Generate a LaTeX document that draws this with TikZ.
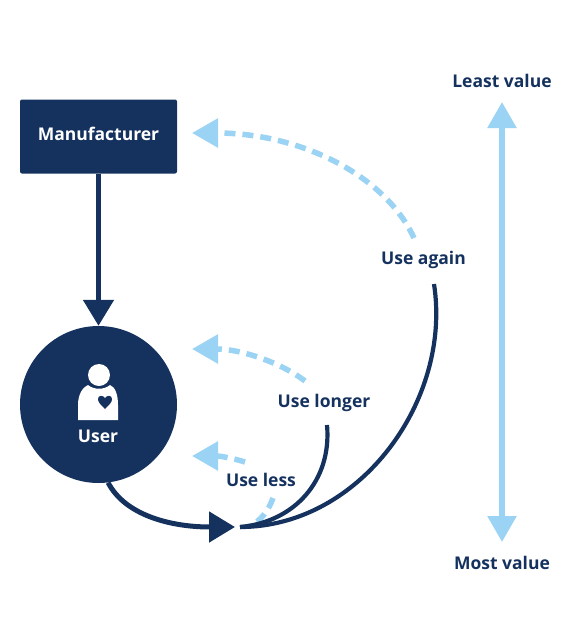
\documentclass[tikz,border=0pt]{standalone}
\usepackage{fontspec}
\setmainfont{Open Sans}
\usetikzlibrary{arrows.meta}
\definecolor{navy}{HTML}{15325F}
\definecolor{sky}{HTML}{9AD3F3}
\tikzset{
    label text/.style={text=navy, font=\bfseries\fontsize{17.5}{21}\selectfont, inner sep=0pt},
    inner text/.style={text=white, font=\bfseries\fontsize{17.5}{21}\selectfont, inner sep=0pt},
    dark arrow/.style={draw=navy, line width=5pt, -{Triangle[length=26pt, width=30pt]}},
    dark line/.style={draw=navy, line width=4.2pt},
    light arrow/.style={draw=sky, line width=5.5pt, dash pattern=on 11pt off 7pt, -{Triangle[length=26pt, width=28pt]}},
    light line/.style={draw=sky, line width=5.5pt, dash pattern=on 11pt off 7pt},
    value arrow/.style={draw=sky, line width=5.5pt, {Triangle[length=26pt, width=28pt]}-{Triangle[length=26pt, width=28pt]}}
}
\begin{document}
\begin{tikzpicture}[x=1pt, y=-1pt]
        \useasboundingbox (0, 0) rectangle (569, 627);

        \node (manufacturer) at (98.5, 136.5) [fill=navy, rounded corners=2pt, minimum width=157pt, minimum height=74pt, inner sep=0pt] {};
        \node (manufacturer-text) at (98.5, 134) [inner text] {Manufacturer};
        \node (user) at (98.5, 404.5) [circle, fill=navy, minimum size=157pt, inner sep=0pt] {};
        \node (user-text) at (98, 436) [inner text] {User};

        \fill[white] (99, 375) circle (11pt);
        \fill[white] (78, 420) -- (78, 405) .. controls (78, 394) and (83, 387) .. (88, 385) .. controls (94, 390) and (104, 390) .. (110, 385) .. controls (115, 387) and (118, 394) .. (118, 405) -- (118, 420) -- cycle;
        \fill[navy] (105, 409) .. controls (100, 404) and (98, 402) .. (98, 399) .. controls (98, 395) and (103, 395) .. (105, 398) .. controls (107, 395) and (112, 395) .. (112, 399) .. controls (112, 402) and (110, 404) .. (105, 409) -- cycle;

        \node (again) at (423.5, 259.5) [label text] {Use again};
        \node (longer) at (324, 403) [label text] {Use longer};
        \node (less) at (261, 479.5) [label text] {Use less};
        \node (least) at (502, 80.5) [label text] {Least value};
        \node (most) at (502, 562.5) [label text] {Most value};

        \coordinate (hub) at (240, 527);
        \coordinate (hub-tip) at (235, 527);
        \coordinate (again-start) at (434, 284);
        \coordinate (longer-start) at (327, 425);
        \coordinate (again-dash) at (414, 238);
        \coordinate (again-tip) at (192, 133);
        \coordinate (longer-dash) at (305, 381);
        \coordinate (longer-tip) at (192, 349);
        \coordinate (less-low) at (273, 498);
        \coordinate (less-low-end) at (250, 526);
        \coordinate (less-dash) at (245, 462);
        \coordinate (less-tip) at (192, 456);
        \coordinate (top-tip) at (502, 102);
        \coordinate (bottom-tip) at (502, 542);

        \draw[dark arrow] (manufacturer) -- (user);
        \draw[dark arrow] (user.-83) .. controls (125, 515) and (170, 527) .. (hub-tip);

        \draw[light line] (less-low) .. controls (268, 512) and (260, 521) .. (less-low-end);
        \draw[dark line] (again-start) .. controls (452, 400) and (360, 527) .. (hub);
        \draw[dark line] (longer-start) .. controls (332, 480) and (295, 522) .. (hub);

        \draw[light arrow] (again-dash) .. controls (385, 175) and (300, 133) .. (again-tip);
        \draw[light arrow] (longer-dash) .. controls (280, 362) and (240, 349) .. (longer-tip);
        \draw[light arrow] (less-dash) .. controls (232, 458) and (220, 456) .. (less-tip);

        \draw[value arrow] (top-tip) -- (bottom-tip);

    \end{tikzpicture}
\end{document}
